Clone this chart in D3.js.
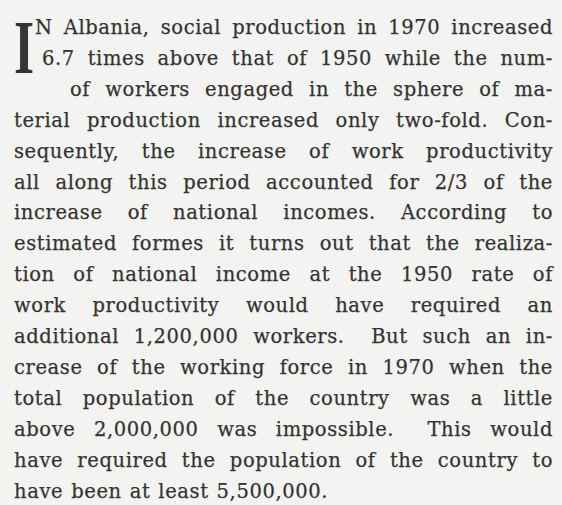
<!DOCTYPE html>
<html>
<head>
<meta charset="utf-8">
<script src="https://cdn.jsdelivr.net/npm/d3@7"></script>
<style>
  html, body { margin: 0; padding: 0; background: #f3f3f1; }
  svg { display: block; }
</style>
</head>
<body>
<script>
// text of the page, one entry per printed line
var lines = [
  "N Albania, social production in 1970 increased",
  "6.7 times above that of 1950 while the num-",
  "of workers engaged in the sphere of ma-",
  "terial production increased only two-fold. Con-",
  "sequently, the increase of work productivity",
  "all along this period accounted for 2/3 of the",
  "increase of national incomes. According to",
  "estimated formes it turns out that the realiza-",
  "tion of national income at the 1950 rate of",
  "work productivity would have required an",
  "additional 1,200,000 workers.  But such an in-",
  "crease of the working force in 1970 when the",
  "total population of the country was a little",
  "above 2,000,000 was impossible.  This would",
  "have required the population of the country to",
  "have been at least 5,500,000."
];
// left edge of each line (drop cap pushes the first three in)
var indents = [35, 42, 70, 14, 14, 14, 14, 14, 14, 14, 14, 14, 14, 14, 14, 14];
var dropCap = "I";

var W = 562, H = 505, right = 553;
var svg = d3.select(document.body).append('svg').attr('width', W).attr('height', H);
svg.append('rect').attr('width', W).attr('height', H).attr('fill', '#f3f3f1');

var y = d3.scaleLinear().domain([0, lines.length - 1]).range([34, 497.5]);

var g = svg.append('g')
  .style('font-family', '"DejaVu Serif", serif')
  .style('font-size', '19.5px')
  .style('letter-spacing', '0.6px')
  .style('fill', '#333')
  .style('stroke', '#333')
  .style('stroke-width', '0.25px');

lines.forEach(function(line, i){
  var words = line.split(/ +/);
  var nodes = words.map(function(w){
    return g.append('text').attr('y', y(i)).text(w);
  });
  var ws = nodes.map(function(n){ return n.node().getComputedTextLength(); });
  var total = d3.sum(ws);
  // a sentence end with two spaces gets a wider gap
  var weights = words.slice(0, -1).map(function(w){
    return /\.$/.test(w) && line.indexOf(w + "  ") >= 0 ? 1.8 : 1;
  });
  var last = i === lines.length - 1;
  var unit = last ? 8 : (right - indents[i] - total) / d3.sum(weights);
  var x = indents[i];
  nodes.forEach(function(n, k){
    n.attr('x', x);
    x += ws[k] + (k < weights.length ? weights[k] * unit : 0);
  });
});

// drop cap
svg.append('text')
  .text(dropCap)
  .style('font-family', '"Liberation Serif", serif')
  .style('font-weight', 'bold')
  .style('font-size', '76px')
  .style('fill', '#353535')
  .attr('transform', 'translate(14,72.7) scale(0.68,1)');
</script>
</body>
</html>
